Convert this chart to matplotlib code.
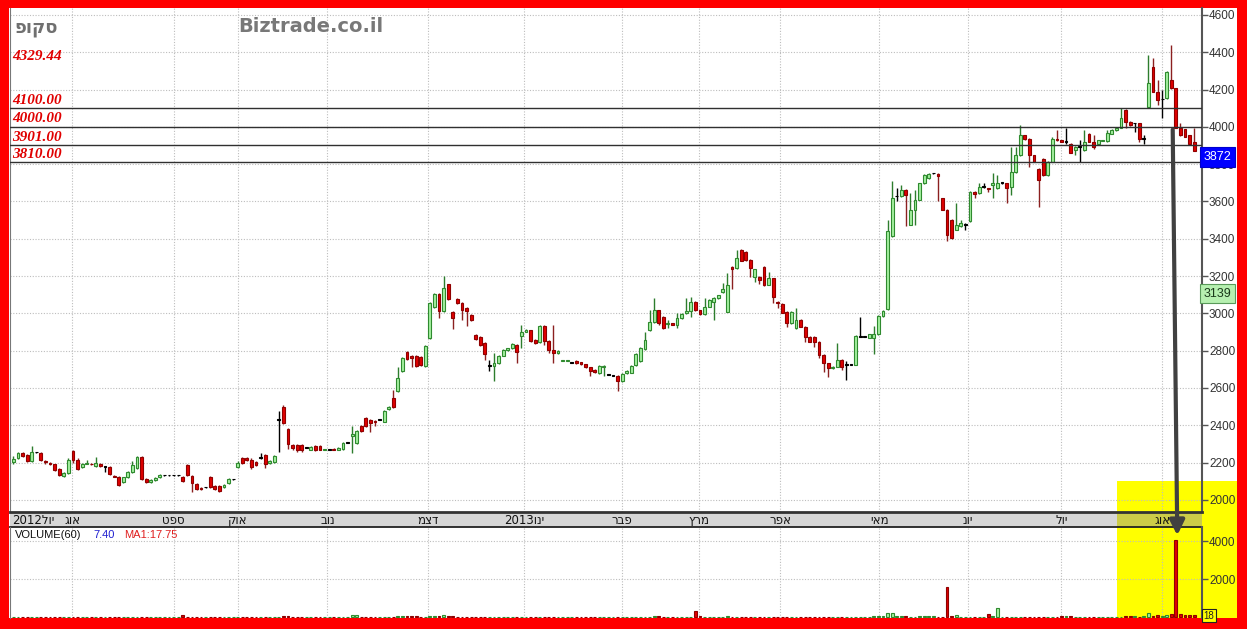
import numpy as np
import matplotlib
matplotlib.use('Agg')
import matplotlib.pyplot as plt
from matplotlib.patches import Rectangle, ConnectionPatch
from matplotlib.transforms import blended_transform_factory

# daily candles (Jul 2012 - Aug 2013)
opens = [
    2205, 2225, 2250, 2240, 2210, 2255, 2253, 2210, 2200, 2190,
    2165, 2130, 2145, 2260, 2215, 2175, 2195, 2195, 2180, 2195,
    2175, 2175, 2130, 2125, 2095, 2120, 2150, 2170, 2230, 2110,
    2095, 2105, 2120, 2132, 2132, 2132, 2132, 2125, 2185, 2130,
    2085, 2065, 2067, 2125, 2075, 2075, 2070, 2090, 2110, 2175,
    2225, 2225, 2215, 2205, 2227, 2240, 2200, 2205, 2430, 2500,
    2380, 2295, 2295, 2295, 2280, 2270, 2290, 2290, 2270, 2270,
    2275, 2268, 2275, 2305, 2345, 2305, 2395, 2440, 2430, 2425,
    2430, 2420, 2485, 2545, 2585, 2690, 2795, 2770, 2770, 2765,
    2720, 2870, 3035, 3105, 3010, 3155, 3005, 3075, 3055, 3030,
    2990, 2885, 2875, 2840, 2720, 2720, 2735, 2772, 2802, 2813,
    2830, 2876, 2902, 2910, 2858, 2845, 2930, 2850, 2805, 2785,
    2745, 2745, 2735, 2745, 2738, 2728, 2712, 2698, 2680, 2710,
    2671, 2666, 2666, 2636, 2680, 2680, 2725, 2745, 2810, 2911,
    2956, 3018, 2982, 2945, 2947, 2938, 2974, 3000, 3014, 3063,
    3018, 2996, 3036, 3063, 3081, 3116, 3009, 3250, 3241, 3339,
    3330, 3286, 3196, 3196, 3250, 3152, 3187, 3063, 3050, 3009,
    2947, 2920, 2965, 2929, 2875, 2875, 2849, 2777, 2733, 2706,
    2715, 2750, 2724, 2724, 2724, 2875, 2875, 2870, 2870, 2888,
    2986, 3022, 3413, 3627, 3627, 3662, 3476, 3556, 3609, 3698,
    3725, 3751, 3749, 3618, 3556, 3502, 3449, 3466, 3476, 3493,
    3653, 3645, 3680, 3671, 3689, 3671, 3698, 3698, 3677, 3758,
    3847, 3955, 3937, 3847, 3776, 3829, 3740, 3812, 3937, 3928,
    3919, 3910, 3874, 3892, 3874, 3964, 3919, 3910, 3925, 3924,
    3964, 3982, 3996, 4090, 4027, 4018, 4018, 3937, 4108, 4323,
    4188, 4147, 4152, 4251, 4206, 3996, 3987, 3955, 3919,
]
highs = [
    2235, 2255, 2255, 2245, 2290, 2258, 2255, 2212, 2205, 2195,
    2170, 2150, 2225, 2270, 2225, 2200, 2215, 2200, 2230, 2200,
    2180, 2180, 2135, 2130, 2125, 2155, 2210, 2235, 2235, 2115,
    2110, 2120, 2140, 2134, 2134, 2134, 2134, 2130, 2190, 2135,
    2090, 2068, 2069, 2130, 2080, 2080, 2085, 2115, 2112, 2210,
    2230, 2230, 2225, 2210, 2250, 2245, 2215, 2240, 2475, 2510,
    2385, 2298, 2300, 2300, 2282, 2290, 2295, 2295, 2275, 2272,
    2278, 2285, 2310, 2307, 2395, 2375, 2400, 2445, 2435, 2430,
    2432, 2480, 2505, 2590, 2710, 2765, 2800, 2775, 2775, 2770,
    2830, 3060, 3110, 3110, 3200, 3160, 3010, 3080, 3060, 3035,
    2995, 2890, 2880, 2845, 2750, 2785, 2775, 2810, 2815, 2840,
    2835, 2940, 2915, 2912, 2860, 2935, 2935, 2855, 2935, 2805,
    2752, 2752, 2737, 2748, 2740, 2730, 2715, 2700, 2725, 2722,
    2673, 2668, 2668, 2680, 2695, 2725, 2785, 2820, 2900, 3018,
    3081, 3020, 2985, 2965, 2950, 3004, 3000, 3081, 3089, 3065,
    3020, 3081, 3075, 3088, 3100, 3161, 3214, 3255, 3339, 3345,
    3333, 3290, 3240, 3200, 3255, 3223, 3190, 3066, 3053, 3012,
    3012, 3027, 2968, 2932, 2878, 2878, 2852, 2780, 2736, 2718,
    2840, 2753, 2747, 2726, 2884, 2982, 2877, 2891, 2933, 2989,
    3016, 3502, 3707, 3671, 3689, 3665, 3645, 3662, 3701, 3745,
    3751, 3753, 3752, 3621, 3559, 3505, 3591, 3502, 3484, 3656,
    3656, 3698, 3698, 3674, 3751, 3742, 3700, 3701, 3892, 3892,
    4009, 3958, 3940, 3850, 3779, 3832, 3815, 3946, 3982, 3931,
    3996, 3913, 3895, 3928, 3982, 3967, 3955, 3931, 3931, 3982,
    3988, 3999, 4099, 4093, 4030, 4020, 4021, 3955, 4386, 4368,
    4251, 4197, 4299, 4439, 4209, 4018, 3990, 3958, 3996,
]
lows = [
    2195, 2220, 2230, 2205, 2205, 2252, 2210, 2195, 2185, 2155,
    2130, 2125, 2140, 2200, 2160, 2170, 2190, 2185, 2175, 2175,
    2150, 2135, 2120, 2075, 2090, 2115, 2145, 2165, 2105, 2090,
    2090, 2100, 2115, 2130, 2130, 2130, 2130, 2095, 2130, 2040,
    2055, 2055, 2065, 2065, 2055, 2040, 2065, 2085, 2108, 2170,
    2195, 2210, 2165, 2180, 2220, 2170, 2195, 2200, 2255, 2405,
    2275, 2270, 2255, 2255, 2278, 2265, 2260, 2265, 2268, 2268,
    2265, 2265, 2270, 2303, 2250, 2300, 2365, 2390, 2365, 2395,
    2428, 2415, 2480, 2495, 2580, 2685, 2750, 2710, 2715, 2720,
    2715, 2865, 3030, 2975, 3005, 3070, 2915, 3050, 2965, 2930,
    2960, 2855, 2825, 2750, 2690, 2635, 2730, 2770, 2798, 2810,
    2735, 2815, 2900, 2845, 2835, 2840, 2830, 2785, 2735, 2780,
    2742, 2742, 2733, 2730, 2725, 2705, 2662, 2680, 2675, 2662,
    2669, 2664, 2585, 2632, 2675, 2678, 2720, 2740, 2805, 2905,
    2950, 2940, 2915, 2920, 2935, 2920, 2970, 2995, 2982, 3015,
    2990, 2990, 3032, 2965, 3078, 3110, 3005, 3129, 3236, 3278,
    3283, 3196, 3170, 3160, 3148, 3150, 3054, 3027, 3000, 2929,
    2944, 2917, 2925, 2849, 2846, 2822, 2759, 2688, 2661, 2703,
    2712, 2697, 2643, 2722, 2721, 2872, 2873, 2867, 2781, 2885,
    2983, 3019, 3410, 3600, 3624, 3466, 3473, 3476, 3606, 3695,
    3722, 3749, 3600, 3553, 3386, 3396, 3446, 3463, 3449, 3490,
    3618, 3642, 3671, 3653, 3618, 3668, 3696, 3591, 3632, 3755,
    3844, 3928, 3785, 3809, 3569, 3737, 3737, 3809, 3925, 3916,
    3910, 3857, 3847, 3812, 3871, 3916, 3883, 3907, 3922, 3921,
    3961, 3979, 3993, 3991, 4006, 3973, 3919, 3910, 4105, 4185,
    4117, 4045, 4149, 4203, 3993, 3952, 3943, 3907, 3869,
]
closes = [
    2220, 2250, 2235, 2210, 2255, 2255, 2215, 2205, 2190, 2160,
    2135, 2145, 2215, 2215, 2165, 2190, 2200, 2190, 2200, 2180,
    2175, 2140, 2125, 2080, 2120, 2150, 2185, 2230, 2110, 2095,
    2105, 2115, 2135, 2132, 2132, 2132, 2132, 2100, 2135, 2090,
    2060, 2058, 2067, 2070, 2060, 2045, 2080, 2110, 2110, 2200,
    2200, 2215, 2175, 2185, 2227, 2190, 2210, 2235, 2430, 2410,
    2300, 2280, 2270, 2265, 2280, 2285, 2265, 2270, 2272, 2270,
    2270, 2280, 2305, 2305, 2355, 2370, 2370, 2395, 2410, 2415,
    2430, 2475, 2500, 2500, 2655, 2760, 2755, 2760, 2720, 2725,
    2825, 3055, 3105, 3010, 3135, 3075, 2975, 3055, 3020, 3010,
    2965, 2860, 2830, 2780, 2720, 2735, 2770, 2805, 2812, 2835,
    2795, 2900, 2910, 2850, 2840, 2930, 2850, 2805, 2785, 2800,
    2750, 2750, 2735, 2735, 2730, 2710, 2690, 2685, 2720, 2720,
    2671, 2666, 2636, 2676, 2690, 2720, 2780, 2815, 2858, 2956,
    3018, 2947, 2920, 2950, 2938, 2974, 2996, 3014, 3063, 3018,
    2996, 3036, 3072, 3084, 3098, 3129, 3152, 3236, 3295, 3282,
    3286, 3241, 3236, 3179, 3152, 3187, 3089, 3054, 3004, 2947,
    3009, 2965, 2929, 2875, 2849, 2849, 2777, 2733, 2706, 2715,
    2750, 2715, 2724, 2724, 2881, 2875, 2875, 2888, 2888, 2986,
    3013, 3440, 3618, 3627, 3662, 3636, 3556, 3609, 3698, 3742,
    3748, 3751, 3734, 3556, 3422, 3404, 3476, 3484, 3476, 3653,
    3640, 3680, 3680, 3665, 3698, 3698, 3698, 3671, 3758, 3847,
    3955, 3937, 3847, 3812, 3713, 3740, 3812, 3937, 3928, 3919,
    3919, 3860, 3892, 3892, 3919, 3919, 3892, 3928, 3928, 3967,
    3985, 3996, 4045, 4027, 4009, 4018, 3937, 3937, 4233, 4188,
    4143, 4147, 4296, 4206, 3996, 3955, 3946, 3910, 3872,
]
volumes = [
    15, 10, 20, 12, 25, 8, 10, 15, 12, 10,
    18, 10, 22, 15, 12, 10, 14, 8, 12, 10,
    10, 12, 15, 20, 10, 8, 12, 25, 15, 10,
    8, 10, 12, 10, 8, 10, 12, 80, 15, 10,
    12, 10, 8, 10, 15, 12, 10, 20, 12, 10,
    25, 15, 10, 12, 8, 10, 12, 15, 10, 60,
    40, 20, 12, 10, 15, 10, 12, 8, 10, 12,
    10, 12, 15, 20, 110, 110, 20, 15, 10, 12,
    10, 12, 15, 25, 30, 40, 50, 45, 30, 20,
    25, 35, 40, 50, 110, 45, 30, 20, 15, 12,
    15, 10, 12, 10, 15, 12, 10, 8, 12, 10,
    10, 12, 8, 10, 12, 10, 15, 12, 10, 8,
    10, 12, 10, 8, 10, 12, 10, 15, 12, 10,
    12, 10, 8, 10, 15, 12, 10, 8, 12, 10,
    60, 55, 20, 15, 12, 10, 12, 15, 20, 320,
    30, 20, 15, 12, 10, 8, 60, 20, 15, 12,
    10, 12, 15, 10, 12, 10, 8, 10, 12, 10,
    10, 12, 8, 10, 12, 10, 15, 12, 10, 8,
    10, 12, 10, 15, 12, 10, 12, 10, 40, 50,
    60, 200, 200, 50, 40, 30, 20, 15, 50, 55,
    40, 30, 20, 15, 1600, 40, 120, 15, 12, 10,
    12, 10, 15, 150, 40, 450, 20, 15, 10, 12,
    10, 12, 8, 10, 12, 10, 15, 12, 10, 40,
    35, 30, 25, 20, 15, 12, 10, 12, 10, 12,
    15, 10, 12, 40, 35, 30, 25, 40, 200, 60,
    80, 60, 120, 180, 4050, 150, 120, 120, 100,
]

# month boundaries (candle index) and Hebrew month names
month_pos = [12.8, 35, 49, 68.6, 90.6, 111.6, 133, 149.8, 167.6, 189.2, 208.5, 229, 251]
month_names = ['אוג', 'ספט', 'אוק', 'נוב', 'דצמ', 'ינו', 'פבר', 'מרץ', 'אפר', 'מאי', 'יונ', 'יול', 'אוג']
month_years = ['', '', '', '', '', '2013', '', '', '', '', '', '', '']
first_month = ('יול', '2012')

price_ticks = [2000, 2200, 2400, 2600, 2800, 3000, 3200, 3400, 3600, 3800, 4000, 4200, 4400, 4600]
vol_ticks = [2000, 4000]
level_lines = [4100.00, 4000.00, 3901.00, 3810.00]
peak_value = 4329.44
last_price = 3872
ma_price = 3139

n = len(closes)
assert len(opens) == len(highs) == len(lows) == len(volumes) == n

W, H = 1247, 629
def fx(x):
    return x / W
def fy(y):
    return 1 - y / H

fig = plt.figure(figsize=(W / 100, H / 100), dpi=100)
fig.patch.set_facecolor('#ff0000')
fig.add_artist(Rectangle((fx(9), fy(618)), fx(1237 - 9), (618 - 8) / H, transform=fig.transFigure,
                         facecolor='white', edgecolor='none', zorder=-3))
fig.add_artist(Rectangle((fx(1117), fy(618)), fx(1237 - 1117), (618 - 481) / H, transform=fig.transFigure,
                         facecolor='#ffff00', edgecolor='none', zorder=-2))

ax = fig.add_axes([fx(10), fy(512), fx(1202 - 10), (512 - 8) / H])
band = fig.add_axes([fx(10), fy(527), fx(1202 - 10), (527 - 512) / H])
axv = fig.add_axes([fx(10), fy(618), fx(1202 - 10), (618 - 527) / H])

x = np.arange(n)
o = np.array(opens, float)
c = np.array(closes, float)
hi = np.array(highs, float)
lo = np.array(lows, float)
up = c > o
down = c < o

wick_col = np.where(up, '#2d7d2d', np.where(down, '#8b2020', '#000000'))
face_col = np.where(up, '#a4f0a0', np.where(down, '#e00000', '#000000'))
edge_col = np.where(up, '#2f8a2f', np.where(down, '#900000', '#000000'))

xlim = (-0.75, 259.7)
grid_kw = dict(color='#bdbdbd', linestyle=(0, (1, 1.5)), linewidth=0.8)

for a in (ax, axv):
    a.set_facecolor('none')
    a.set_xlim(*xlim)
    a.set_xticks(month_pos)
    a.tick_params(axis='x', length=0, labelbottom=False)
    a.yaxis.tick_right()
    a.tick_params(axis='y', right=True, left=False, labelright=True, labelleft=False,
                  length=4, width=1, color='#555555', pad=1, labelsize=8.5, labelcolor='#333333')
    a.grid(True, **grid_kw)
    a.set_axisbelow(True)
    a.spines['top'].set_visible(False)
    a.spines['bottom'].set_visible(False)
    a.spines['right'].set_color('#555555')
    a.spines['right'].set_linewidth(1.5)
    a.spines['left'].set_color('#777777')

# price panel
ax.set_ylim(1935, 4637)
ax.set_yticks(price_ticks)
for lab in ax.get_yticklabels():
    lab.set_family('Liberation Sans')
ax.vlines(x, lo, hi, colors=wick_col, linewidth=1, zorder=2)
body = np.maximum(np.abs(c - o), 4)
ax.bar(x, body, bottom=np.minimum(o, c), width=0.62, color=face_col, edgecolor=edge_col,
       linewidth=0.8, zorder=3)

for lv in level_lines:
    ax.axhline(lv, color='#303030', linewidth=1, zorder=4)

tr = blended_transform_factory(ax.transAxes, ax.transData)
lab_kw = dict(color='#e00000', fontsize=11, fontweight='bold', fontstyle='italic',
              family='Liberation Serif', transform=tr, va='bottom', ha='left', zorder=6)
ax.text(0.0015, peak_value + 15, f'{peak_value:.2f}', **lab_kw)
for lv in level_lines:
    ax.text(0.0015, lv + 8, f'{lv:.2f}', **lab_kw)

# value boxes on the right scale (box top sits at the value)
box_kw = dict(transform=tr, ha='left', va='center', fontsize=9, family='Liberation Sans',
              zorder=8, clip_on=False)
ax.text(1.0012, last_price - 33, f'{last_price}', color='white',
        bbox=dict(boxstyle='square,pad=0.3', facecolor='#0000ff', edgecolor='#0000cc', linewidth=0.8),
        **box_kw)
ax.text(1.0012, ma_price - 33, f'{ma_price}', color='#1a3a1a',
        bbox=dict(boxstyle='square,pad=0.3', facecolor='#b6f0b0', edgecolor='#5a9a5a', linewidth=0.8),
        **box_kw)

# date band
band.set_xlim(*xlim)
band.set_ylim(0, 1)
band.set_facecolor('#d6d6d6')
band.set_xticks([])
band.set_yticks([])
for s in ('left', 'right'):
    band.spines[s].set_visible(False)
band.spines['top'].set_color('#333333')
band.spines['top'].set_linewidth(2)
band.spines['bottom'].set_color('#222222')
band.spines['bottom'].set_linewidth(1.3)
band.add_patch(Rectangle((0.9287, 0), 1 - 0.9287, 1, transform=band.transAxes,
                         facecolor='#cccc48', edgecolor='none', zorder=0.5))
heb_font = ['DejaVu Sans', 'Liberation Sans']
band.text(0.002, 0.45, first_month[1] + first_month[0][::-1], transform=band.transAxes,
          ha='left', va='center', fontsize=8.5, family=heb_font, color='#111111', zorder=3)
for pos, name, yr in zip(month_pos, month_names, month_years):
    band.text(pos, 0.45, yr + name[::-1], ha='center', va='center', fontsize=8.5,
              family=heb_font, color='#111111', zorder=3)

# volume panel
axv.set_ylim(-53, 4740)
axv.set_yticks(vol_ticks)
for lab in axv.get_yticklabels():
    lab.set_family('Liberation Sans')
vol_face = np.where(c >= o, '#a4f0a0', '#e00000')
vol_edge = np.where(c >= o, '#2f8a2f', '#900000')
axv.bar(x, volumes, width=0.62, color=vol_face, edgecolor=vol_edge, linewidth=0.8, zorder=3)
trv = blended_transform_factory(axv.transAxes, axv.transData)
axv.text(1.0012, 60, '18', transform=trv, ha='left', va='center', fontsize=7,
         family='Liberation Sans', color='#222222', zorder=8, clip_on=False,
         bbox=dict(boxstyle='square,pad=0.15', facecolor='#ffff00', edgecolor='#222222', linewidth=0.8))

# header texts
fig.text(fx(14), fy(28), 'סקופ'[::-1], fontsize=13, fontweight='bold', color='#707070',
         family=heb_font, va='center', ha='left')
fig.text(fx(238), fy(27), 'Biztrade.co.il', fontsize=14, fontweight='bold', color='#787878',
         family='DejaVu Sans', va='center', ha='left')
fig.text(fx(15), fy(535), 'VOLUME(60)', fontsize=8, color='#111111', family='Liberation Sans',
         va='center', ha='left')
fig.text(fx(93), fy(535), '7.40', fontsize=8, color='#2020d0', family='Liberation Sans',
         va='center', ha='left')
fig.text(fx(124), fy(535), 'MA1:17.75', fontsize=8, color='#e02020', family='Liberation Sans',
         va='center', ha='left')

# arrow from the drop down to the volume spike
arrow = ConnectionPatch(xyA=(253.3, 3985), coordsA=ax.transData, xyB=(254.3, 4300), coordsB=axv.transData,
                        arrowstyle='-|>', mutation_scale=22, linewidth=3, color='#404040', zorder=10)
fig.add_artist(arrow)

fig.savefig('out.png', dpi=100, facecolor=fig.get_facecolor())
